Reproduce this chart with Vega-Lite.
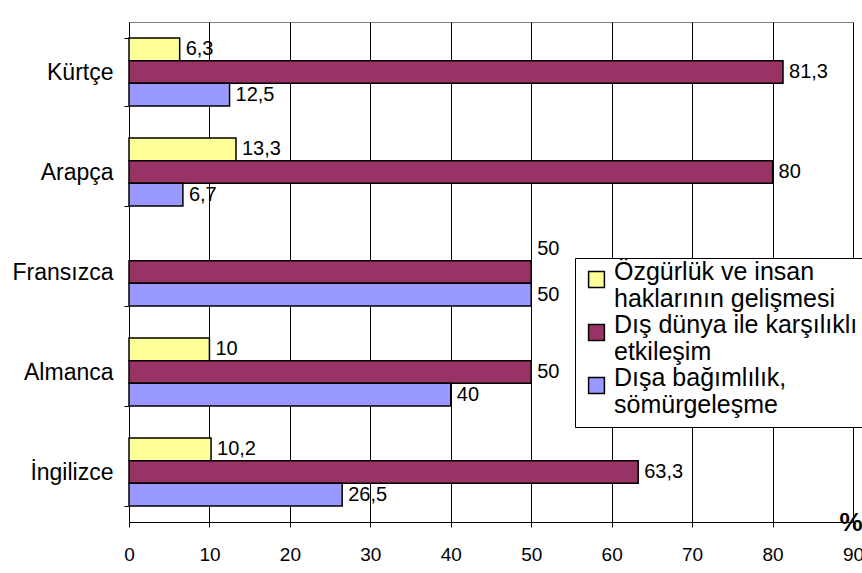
{
  "$schema": "https://vega.github.io/schema/vega-lite/v6.json",
  "width": 724,
  "height": 500,
  "autosize": {"type": "none"},
  "padding": {"left": 129, "top": 22, "right": 9, "bottom": 51},
  "background": "white",
  "config": {
    "font": "Liberation Sans",
    "locale": {"number": {"decimal": ",", "thousands": ".", "grouping": [3], "currency": ["", " TL"]}},
    "view": {"stroke": "#808080", "strokeWidth": 1}
  },
  "data": {
    "values": [
      {"dil": "Kürtçe", "seri": "Özgürlük ve insan haklarının gelişmesi", "konum": "Özgürlük ve insan haklarının gelişmesi", "deger": 6.3},
      {"dil": "Kürtçe", "seri": "Dış dünya ile karşılıklı etkileşim", "konum": "Dış dünya ile karşılıklı etkileşim", "deger": 81.3},
      {"dil": "Kürtçe", "seri": "Dışa bağımlılık, sömürgeleşme", "konum": "Dışa bağımlılık, sömürgeleşme", "deger": 12.5},
      {"dil": "Arapça", "seri": "Özgürlük ve insan haklarının gelişmesi", "konum": "Özgürlük ve insan haklarının gelişmesi", "deger": 13.3},
      {"dil": "Arapça", "seri": "Dış dünya ile karşılıklı etkileşim", "konum": "Dış dünya ile karşılıklı etkileşim", "deger": 80},
      {"dil": "Arapça", "seri": "Dışa bağımlılık, sömürgeleşme", "konum": "Dışa bağımlılık, sömürgeleşme", "deger": 6.7},
      {"dil": "Fransızca", "seri": "Dış dünya ile karşılıklı etkileşim", "konum": "Özgürlük ve insan haklarının gelişmesi", "deger": 50},
      {"dil": "Fransızca", "seri": "Dışa bağımlılık, sömürgeleşme", "konum": "Dışa bağımlılık, sömürgeleşme", "deger": 50},
      {"dil": "Almanca", "seri": "Özgürlük ve insan haklarının gelişmesi", "konum": "Özgürlük ve insan haklarının gelişmesi", "deger": 10},
      {"dil": "Almanca", "seri": "Dış dünya ile karşılıklı etkileşim", "konum": "Dış dünya ile karşılıklı etkileşim", "deger": 50},
      {"dil": "Almanca", "seri": "Dışa bağımlılık, sömürgeleşme", "konum": "Dışa bağımlılık, sömürgeleşme", "deger": 40},
      {"dil": "İngilizce", "seri": "Özgürlük ve insan haklarının gelişmesi", "konum": "Özgürlük ve insan haklarının gelişmesi", "deger": 10.2},
      {"dil": "İngilizce", "seri": "Dış dünya ile karşılıklı etkileşim", "konum": "Dış dünya ile karşılıklı etkileşim", "deger": 63.3},
      {"dil": "İngilizce", "seri": "Dışa bağımlılık, sömürgeleşme", "konum": "Dışa bağımlılık, sömürgeleşme", "deger": 26.5}
    ]
  },
  "layer": [
    {
      "mark": {"type": "bar", "stroke": "black", "strokeWidth": 1.5},
      "encoding": {
        "y": {
          "field": "dil", "type": "nominal",
          "sort": ["Kürtçe", "Arapça", "Fransızca", "Almanca", "İngilizce"],
          "scale": {"paddingInner": 0.32, "paddingOuter": 0.16},
          "axis": {
            "title": null, "labelFont": "Liberation Sans", "labelFontSize": 23, "labelColor": "black",
            "labelPadding": 11, "tickSize": 5, "tickColor": "black", "domainColor": "black",
            "tickBand": "extent", "grid": false
          }
        },
        "yOffset": {
          "field": "seri", "type": "nominal",
          "scale": {"domain": ["Özgürlük ve insan haklarının gelişmesi", "Dış dünya ile karşılıklı etkileşim", "Dışa bağımlılık, sömürgeleşme"], "paddingInner": 0, "paddingOuter": 0}
        },
        "x": {
          "field": "deger", "type": "quantitative",
          "scale": {"domain": [0, 90], "nice": false},
          "axis": {
            "title": "%", "titleFont": "Liberation Sans", "titleFontSize": 26, "titleFontWeight": "bold", "titleColor": "black",
            "titleX": 710, "titleY": 8, "titleAlign": "left", "titleBaseline": "alphabetic", "titleAnchor": "start",
            "values": [0, 10, 20, 30, 40, 50, 60, 70, 80, 90],
            "labelFont": "Liberation Sans", "labelFontSize": 19, "labelColor": "black", "labelPadding": 18,
            "labelFlush": false, "labelOverlap": false,
            "tickSize": 5, "tickColor": "black", "domainColor": "black",
            "grid": true, "gridColor": "#000000", "gridOpacity": 1, "gridWidth": 1
          }
        },
        "color": {
          "field": "seri", "type": "nominal",
          "scale": {"domain": ["Özgürlük ve insan haklarının gelişmesi", "Dış dünya ile karşılıklı etkileşim", "Dışa bağımlılık, sömürgeleşme"], "range": ["#FFFF99", "#993366", "#9999FF"]},
          "legend": {
            "title": null, "orient": "none", "legendX": 446, "legendY": 236, "direction": "vertical",
            "strokeColor": "black", "fillColor": "white", "padding": 9,
            "labelFont": "Liberation Sans", "labelFontSize": 25, "labelColor": "black", "labelLimit": 600,
            "labelBaseline": "alphabetic", "labelOffset": 5,
            "symbolType": "square", "symbolSize": 250, "symbolStrokeColor": "black", "symbolStrokeWidth": 1.5, "symbolOpacity": 1,
            "rowPadding": 0,
            "labelExpr": "datum.value == 'Özgürlük ve insan haklarının gelişmesi' ? ['Özgürlük ve insan', 'haklarının gelişmesi'] : datum.value == 'Dış dünya ile karşılıklı etkileşim' ? ['Dış dünya ile karşılıklı', 'etkileşim'] : ['Dışa bağımlılık,', 'sömürgeleşme']"
          }
        }
      }
    },
    {
      "mark": {"type": "text", "align": "left", "baseline": "middle", "dx": 6, "fontSize": 20, "font": "Liberation Sans", "color": "black"},
      "encoding": {
        "y": {"field": "dil", "type": "nominal", "sort": ["Kürtçe", "Arapça", "Fransızca", "Almanca", "İngilizce"]},
        "yOffset": {"field": "konum", "type": "nominal", "scale": {"domain": ["Özgürlük ve insan haklarının gelişmesi", "Dış dünya ile karşılıklı etkileşim", "Dışa bağımlılık, sömürgeleşme"]}},
        "x": {"field": "deger", "type": "quantitative"},
        "text": {"field": "deger", "type": "quantitative", "format": ".1~f"}
      }
    }
  ]
}
